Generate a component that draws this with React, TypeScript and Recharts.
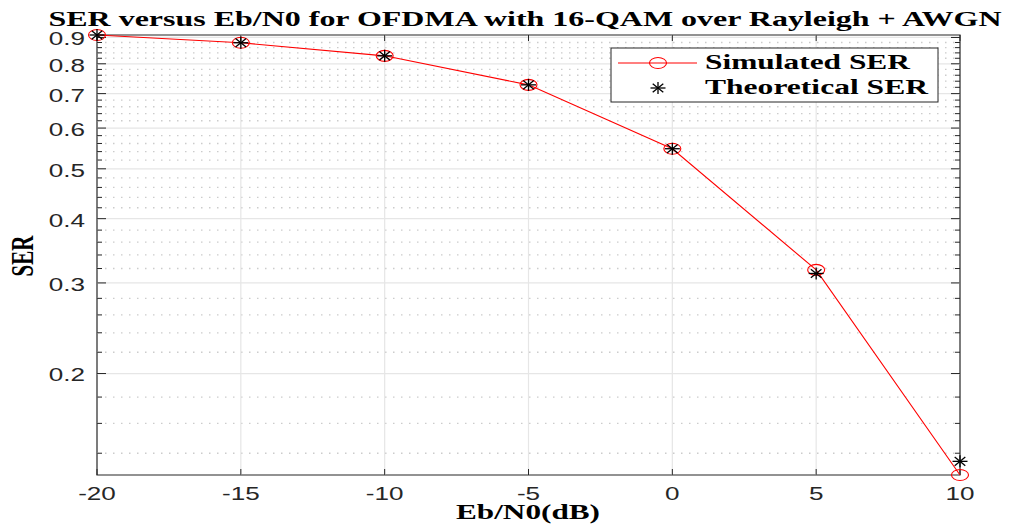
import React from "react"
import { LineChart, Line, XAxis, YAxis, ReferenceLine, ReferenceArea } from "recharts"

// Eb/N0 in dB
const ebN0 = [-20, -15, -10, -5, 0, 5, 10]
const simulatedSer = [0.91, 0.879, 0.829, 0.728, 0.547, 0.318, 0.127]
const theoreticalSer = [0.91, 0.879, 0.829, 0.728, 0.547, 0.313, 0.135]

const xTicks = [-20, -15, -10, -5, 0, 5, 10]
const yTicks = [0.2, 0.3, 0.4, 0.5, 0.6, 0.7, 0.8, 0.9]
const yMinorTicks = [
  0.14, 0.16, 0.18, 0.22, 0.24, 0.26, 0.28, 0.32, 0.34, 0.36, 0.38, 0.42, 0.44, 0.46, 0.48,
  0.52, 0.54, 0.56, 0.58, 0.62, 0.64, 0.66, 0.68, 0.72, 0.74, 0.76, 0.78, 0.82, 0.84, 0.86, 0.88,
]
const yDomain: [number, number] = [0.127, 0.91]

const data = ebN0.map((x, i) => ({
  x,
  simulated: simulatedSer[i],
  theoretical: theoreticalSer[i],
}))

const W = 1014
const H = 531
const AXIS = "#262626"
const SERIF = "'Liberation Serif', 'Times New Roman', serif"
const SANS = "'Liberation Sans', Arial, sans-serif"
const STRETCH = 1.45

// matlab-ish markers (the figure is stretched horizontally)
const Ring = ({ cx, cy }: any) =>
  cx == null || cy == null ? null : (
    <ellipse cx={cx} cy={cy} rx={8.5} ry={5.5} fill="none" stroke="#ff0000" strokeWidth={1.1} />
  )

const Star = ({ cx, cy }: any) =>
  cx == null || cy == null ? null : (
    <g stroke="#000" strokeWidth={1.3}>
      <line x1={cx - 7.5} y1={cy} x2={cx + 7.5} y2={cy} />
      <line x1={cx} y1={cy - 6} x2={cx} y2={cy + 6} />
      <line x1={cx - 5.3} y1={cy - 4.3} x2={cx + 5.3} y2={cy + 4.3} />
      <line x1={cx - 5.3} y1={cy + 4.3} x2={cx + 5.3} y2={cy - 4.3} />
    </g>
  )

const XTick = ({ x, y, payload }: any) => (
  <text
    transform={`translate(${x},${y}) scale(${STRETCH},1)`}
    textAnchor="middle"
    dy="0.71em"
    fontFamily={SANS}
    fontSize={18}
    fill={AXIS}
  >
    {payload.value}
  </text>
)

const YTick = ({ x, y, payload }: any) => (
  <text
    transform={`translate(${x},${y}) scale(${STRETCH},1)`}
    textAnchor="end"
    dy="0.44em"
    fontFamily={SANS}
    fontSize={18}
    fill={AXIS}
  >
    {payload.value}
  </text>
)

// grid line plus inward ticks on both ends
const gridShape = (style: "major" | "minor", tickLen: number, grid: boolean) => (p: any) => {
  const { x1, y1, x2, y2 } = p
  const horizontal = Math.abs(y1 - y2) < 0.5
  const dx = horizontal ? Math.sign(x2 - x1) * tickLen : 0
  const dy = horizontal ? 0 : Math.sign(y2 - y1) * tickLen
  return (
    <g>
      {grid && (
        <line
          x1={x1}
          y1={y1}
          x2={x2}
          y2={y2}
          stroke={style === "major" ? "#e6e6e6" : "#cccccc"}
          strokeWidth={style === "major" ? 1.2 : 1.3}
          strokeDasharray={style === "major" ? undefined : "1.5 6.5"}
        />
      )}
      <line x1={x1} y1={y1} x2={x1 + dx} y2={y1 + dy} stroke={AXIS} strokeWidth={1} />
      <line x1={x2} y1={y2} x2={x2 - dx} y2={y2 - dy} stroke={AXIS} strokeWidth={1} />
    </g>
  )
}

export default function App() {
  return (
    <div style={{ position: "absolute", left: 0, top: 0, width: W, height: H, background: "#fff" }}>
      <LineChart width={W} height={H} data={data} margin={{ top: 35, right: 54, bottom: 0, left: 0 }}>
        <XAxis
          dataKey="x"
          type="number"
          domain={[-20, 10]}
          ticks={xTicks}
          interval={0}
          axisLine={false}
          tickLine={false}
          tickSize={6}
          tickMargin={6}
          height={56}
          tick={<XTick />}
        />
        <YAxis
          type="number"
          scale="log"
          domain={yDomain}
          ticks={yTicks}
          interval={0}
          axisLine={false}
          tickLine={false}
          tickSize={6}
          tickMargin={6}
          width={97}
          tick={<YTick />}
        />
        {yMinorTicks.map((v) => (
          <ReferenceLine key={`m${v}`} y={v} shape={gridShape("minor", 5, true)} />
        ))}
        {yTicks.map((v) => (
          <ReferenceLine key={`y${v}`} y={v} shape={gridShape("major", 9, true)} />
        ))}
        {xTicks.map((v) => (
          <ReferenceLine key={`x${v}`} x={v} shape={gridShape("major", 6, v !== -20 && v !== 10)} />
        ))}
        <ReferenceArea
          x1={-20}
          x2={10}
          y1={yDomain[0]}
          y2={yDomain[1]}
          fill="none"
          fillOpacity={0}
          stroke={AXIS}
          strokeWidth={1.2}
        />
        <Line
          dataKey="simulated"
          type="linear"
          stroke="#ff0000"
          strokeWidth={1.1}
          dot={<Ring />}
          activeDot={false}
          isAnimationActive={false}
        />
        <Line
          dataKey="theoretical"
          type="linear"
          stroke="none"
          dot={<Star />}
          activeDot={false}
          isAnimationActive={false}
        />
      </LineChart>

      <svg
        width={W}
        height={H}
        style={{ position: "absolute", left: 0, top: 0, pointerEvents: "none" }}
      >
        <text
          x={525}
          y={26}
          textAnchor="middle"
          fontFamily={SERIF}
          fontWeight="bold"
          fontSize={21}
          textLength={953}
          lengthAdjust="spacingAndGlyphs"
          fill="#000"
        >
          SER versus Eb/N0 for OFDMA with 16-QAM over Rayleigh + AWGN
        </text>
        <text
          x={528}
          y={519}
          textAnchor="middle"
          fontFamily={SERIF}
          fontWeight="bold"
          fontSize={21}
          textLength={144}
          lengthAdjust="spacingAndGlyphs"
          fill="#000"
        >
          Eb/N0(dB)
        </text>
        <text
          transform="translate(33,256) scale(1.5,1) rotate(-90)"
          textAnchor="middle"
          fontFamily={SERIF}
          fontWeight="bold"
          fontSize={21}
          fill="#000"
        >
          SER
        </text>

        <g>
          <rect x={611} y={48} width={327} height={54} fill="#fff" stroke={AXIS} strokeWidth={1} />
          <line x1={618} y1={63} x2={697} y2={63} stroke="#ff0000" strokeWidth={1.1} />
          <Ring cx={658} cy={63} />
          <Star cx={658} cy={88} />
          <text
            x={705}
            y={69}
            fontFamily={SERIF}
            fontWeight="bold"
            fontSize={21}
            textLength={205}
            lengthAdjust="spacingAndGlyphs"
            fill="#000"
          >
            Simulated SER
          </text>
          <text
            x={705}
            y={94}
            fontFamily={SERIF}
            fontWeight="bold"
            fontSize={21}
            textLength={223}
            lengthAdjust="spacingAndGlyphs"
            fill="#000"
          >
            Theoretical SER
          </text>
        </g>
      </svg>
    </div>
  )
}
